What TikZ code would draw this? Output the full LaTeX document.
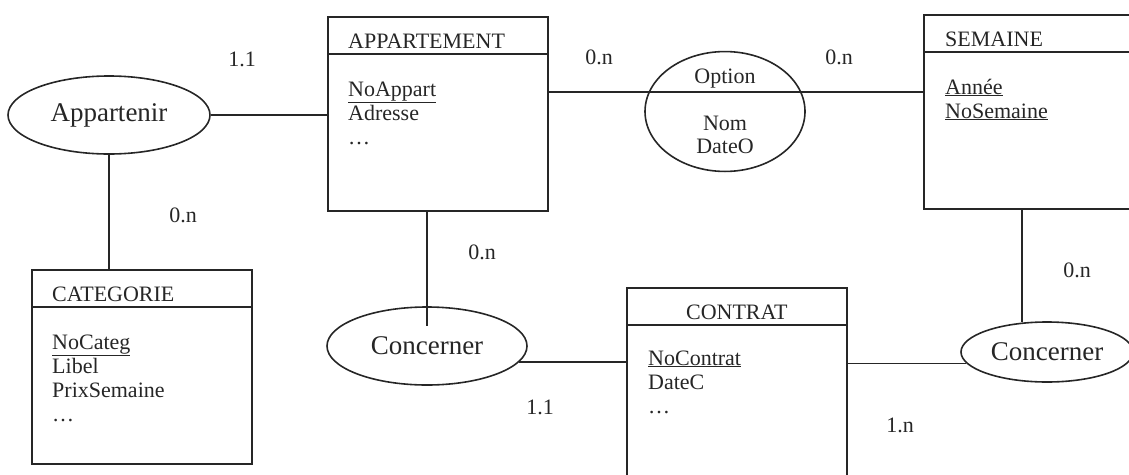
\documentclass[tikz,border=0pt]{standalone}
\usepackage{fontspec}
\setmainfont{Liberation Serif}
\usetikzlibrary{positioning, calc, shapes.geometric}

\begin{document}
\begin{tikzpicture}[
    x=1pt, y=-1pt,
    entity/.style  = {rectangle, draw=black!85, line width=1.6pt,
                      minimum width=220pt, minimum height=194pt,
                      inner sep=0pt, anchor=north west},
    entitle/.style = {font=\fontsize{22}{24}\selectfont, text=black!85,
                      inner sep=0pt, anchor=base west},
    attr/.style    = {font=\fontsize{22}{24}\selectfont, text=black!85,
                      inner sep=0pt, anchor=base west},
    assoc/.style   = {ellipse, draw=black!85, line width=1.6pt, inner sep=0pt,
                      font=\fontsize{27}{30}\selectfont, text=black!85},
    link/.style    = {line width=1.6pt, draw=black!85},
    card/.style    = {font=\fontsize{22}{24}\selectfont, text=black!85,
                      inner sep=0pt},
]

\useasboundingbox (0,0) rectangle (1129,474);

%% ============================================================
%% COORDINATES (top left corners of the entities)
%% ============================================================
\def\xAppart{327}  \def\yAppart{16}
\def\xSemaine{923} \def\ySemaine{14}
\def\xCateg{31}    \def\yCateg{269}
\def\xContrat{626} \def\yContrat{287}

%% ============================================================
%% ENTITIES
%% ============================================================
\node[entity] (appart)  at (\xAppart,  \yAppart)  {};
\node[entity] (semaine) at (\xSemaine, \ySemaine) {};
\node[entity] (categ)   at (\xCateg,   \yCateg)   {};
\node[entity] (contrat) at (\xContrat, \yContrat) {};

\foreach \ent in {appart, semaine, categ, contrat}
  \draw[link] ($(\ent.north west)+(0,38)$) -- ($(\ent.north east)+(0,38)$);

\node[entitle] (appart-t)  at ($(appart.north west)+(21,32)$)  {APPARTEMENT};
\node[entitle] (semaine-t) at ($(semaine.north west)+(22,32)$) {SEMAINE};
\node[entitle] (categ-t)   at ($(categ.north west)+(21,32)$)   {CATEGORIE};
\node[entitle, anchor=base] (contrat-t) at ($(contrat.north)+(0,32)$) {CONTRAT};

\foreach \txt [count=\i] in {\underline{NoAppart}, Adresse, \ldots}
  \node[attr] (appart-a\i) at ($(appart.north west)+(21,80+24*\i-24)$) {\txt};
\foreach \txt [count=\i] in {\underline{Année}, \underline{NoSemaine}}
  \node[attr] (semaine-a\i) at ($(semaine.north west)+(22,80+24*\i-24)$) {\txt};
\foreach \txt [count=\i] in {\underline{NoCateg}, Libel, PrixSemaine, \ldots}
  \node[attr] (categ-a\i) at ($(categ.north west)+(21,80+24*\i-24)$) {\txt};
\foreach \txt [count=\i] in {\underline{NoContrat}, DateC, \ldots}
  \node[attr] (contrat-a\i) at ($(contrat.north west)+(22,78+24*\i-24)$) {\txt};

%% ============================================================
%% ASSOCIATIONS
%% ============================================================
\node[assoc, minimum width=202pt, minimum height=78pt] (appartenir) at (109,115) {Appartenir};
\node[assoc, minimum width=200pt, minimum height=78pt] (concL) at (427,346) {Concerner};
\node[assoc, minimum width=172pt, minimum height=60pt] (concR) at (1047,352) {Concerner};
\node[assoc, minimum width=160pt, minimum height=117pt, align=center,
      font=\fontsize{22}{23}\selectfont] (option) at (725,111.5)
    {Option\\[24pt]Nom\\DateO};

%% ============================================================
%% LINKS
%% ============================================================
\draw[link] (appartenir.east) -- (appartenir.east -| appart.west);
\draw[link] (appartenir.south) -- (appartenir.south |- categ.north);

% through Option, also its separator line
\coordinate (optsep) at (725,92);
\draw[link] (appart.east |- optsep) -- (semaine.west |- optsep);

\coordinate (concLend) at ($(concL.north)+(0,20)$);
\draw[link] (concL.north |- appart.south) -- (concLend);
\draw[link] (concL.350) -- (concL.350 -| contrat.west);

\draw[link] (contrat.east |- concR.188) -- (concR.188);
\draw[link] (concR.130 |- semaine.south) -- (concR.130);

%% ============================================================
%% CARDINALITIES
%% ============================================================
\node[card] (card-app1) at (242,59)   {1.1};
\node[card] (card-cat)  at (183,215)  {0.n};
\node[card] (card-opt1) at (599,57)   {0.n};
\node[card] (card-opt2) at (839,57)   {0.n};
\node[card] (card-app2) at (482,252)  {0.n};
\node[card] (card-con1) at (540,407)  {1.1};
\node[card] (card-con2) at (900,425)  {1.n};
\node[card] (card-sem)  at (1077,270) {0.n};

\end{tikzpicture}
\end{document}
